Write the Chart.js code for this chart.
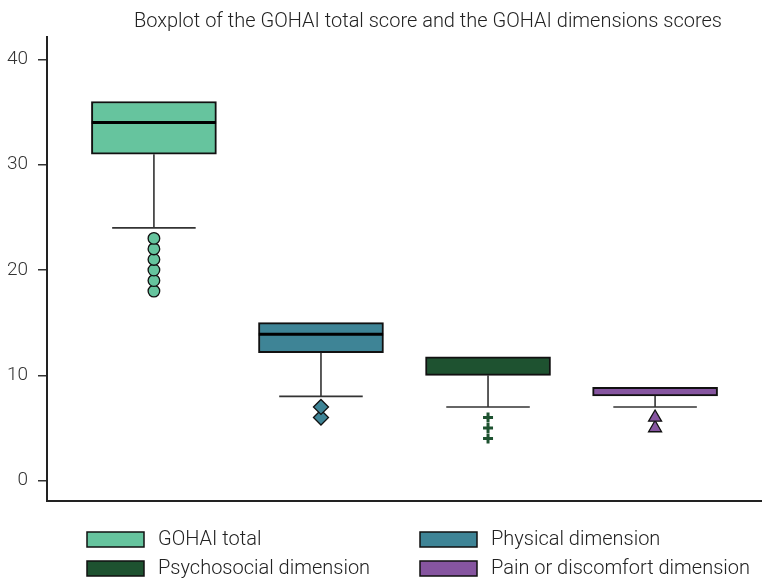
<!DOCTYPE html>
<html>
<head>
<meta charset="utf-8">
<script src="https://cdn.jsdelivr.net/npm/chart.js@4.4.1/dist/chart.umd.min.js"></script>
<style>
  html, body { margin: 0; padding: 0; background: #fff; overflow: hidden; }
  canvas { display: block; }
</style>
</head>
<body>
<canvas id="myChart" width="762" height="579"></canvas>
<script>
// data
const categories = ['GOHAI total', 'Physical dimension', 'Psychosocial dimension', 'Pain or discomfort dimension'];
const q1Values = [31, 12.15, 10, 8.05];
const medianValues = [34, 13.9, 11.75, 8.85];
const q3Values = [36, 15, 11.75, 8.85];
const lowerWhiskers = [24, 8, 7, 7];
const outliers = [
  [18, 19, 20, 21, 22, 23],
  [6, 7],
  [4, 5, 6],
  [5, 6],
];
const yTicks = [0, 10, 20, 30, 40];

// styling
const colors = ['#66c49e', '#3e8496', '#1e5230', '#8655a0'];
const markerStyles = ['circle', 'rectRot', 'cross', 'triangle'];
const markerSizes = [5.8, 7.5, 5, 7.5];
const titleText = 'Boxplot of the GOHAI total score and the GOHAI dimensions scores';
const FONT = 'Roboto';

const datasets = [];

// boxes from Q1 to Q3
datasets.push({
  type: 'bar',
  data: categories.map((c, i) => ({ x: i, y: [q1Values[i], q3Values[i]] })),
  backgroundColor: colors,
  borderColor: '#111',
  borderWidth: 2,
  borderSkipped: false,
  barThickness: 125,
  grouped: false,
  order: 10,
});

// whiskers, caps and medians as line segments
categories.forEach((c, i) => {
  const seg = (pts, color, width) => ({
    type: 'line',
    data: pts,
    borderColor: color,
    borderWidth: width,
    pointRadius: 0,
    fill: false,
    order: 5,
  });
  datasets.push(seg([{ x: i, y: q1Values[i] }, { x: i, y: lowerWhiskers[i] }], '#333', 1.6));
  datasets.push(seg([{ x: i - 0.25, y: lowerWhiskers[i] }, { x: i + 0.25, y: lowerWhiskers[i] }], '#333', 1.6));
  if (medianValues[i] !== q3Values[i]) {
    datasets.push(seg([{ x: i - 0.372, y: medianValues[i] }, { x: i + 0.372, y: medianValues[i] }], '#000', 3));
  }
});

// outliers
categories.forEach((c, i) => {
  const isCross = markerStyles[i] === 'cross';
  datasets.push({
    type: 'scatter',
    data: outliers[i].map(v => ({ x: i, y: v })),
    pointStyle: markerStyles[i],
    pointRadius: markerSizes[i],
    backgroundColor: colors[i],
    borderColor: isCross ? colors[i] : '#111',
    borderWidth: isCross ? 3 : 1.3,
    order: 1,
  });
});

// title and two-column legend drawn on the canvas
const extrasPlugin = {
  id: 'extras',
  afterDraw(chart) {
    const ctx = chart.ctx;
    ctx.save();
    ctx.fillStyle = '#222';
    ctx.textBaseline = 'middle';
    ctx.textAlign = 'center';
    ctx.font = '300 20px ' + FONT;
    ctx.fillText(titleText, 428, 22);

    const colX = [87, 420];
    const rowY = [532, 561];
    ctx.textAlign = 'left';
    ctx.font = '300 20px ' + FONT;
    categories.forEach((label, i) => {
      const x = colX[i % 2];
      const y = rowY[Math.floor(i / 2)];
      ctx.fillStyle = colors[i];
      ctx.fillRect(x, y, 57, 15);
      ctx.strokeStyle = '#111';
      ctx.lineWidth = 1.5;
      ctx.strokeRect(x, y, 57, 15);
      ctx.fillStyle = '#222';
      ctx.fillText(label, x + 71, y + 8);
    });
    ctx.restore();
  }
};

const myChart = new Chart(document.getElementById('myChart'), {
  type: 'bar',
  data: { datasets: datasets },
  options: {
    responsive: false,
    animation: false,
    layout: { autoPadding: false, padding: { top: 37, bottom: 78, left: 0, right: 0 } },
    plugins: {
      legend: { display: false },
      tooltip: { enabled: false },
      title: { display: false },
    },
    scales: {
      x: {
        type: 'linear',
        offset: false,
        min: -0.64,
        max: 3.64,
        ticks: { display: false },
        grid: { display: false },
        border: { display: true, color: '#222', width: 2 },
        afterFit(scale) { scale.height = 0; },
      },
      y: {
        min: -1.93,
        max: 42.12,
        afterBuildTicks(scale) { scale.ticks = yTicks.map(v => ({ value: v })); },
        ticks: { font: { family: FONT, size: 19, weight: 300 }, color: '#333', padding: 10 },
        grid: { drawOnChartArea: false, drawTicks: true, tickLength: 9, color: '#333', lineWidth: 1.5 },
        border: { color: '#222', width: 2 },
        afterFit(scale) { scale.width = 47; },
      },
    },
  },
  plugins: [extrasPlugin],
});
</script>
</body>
</html>
